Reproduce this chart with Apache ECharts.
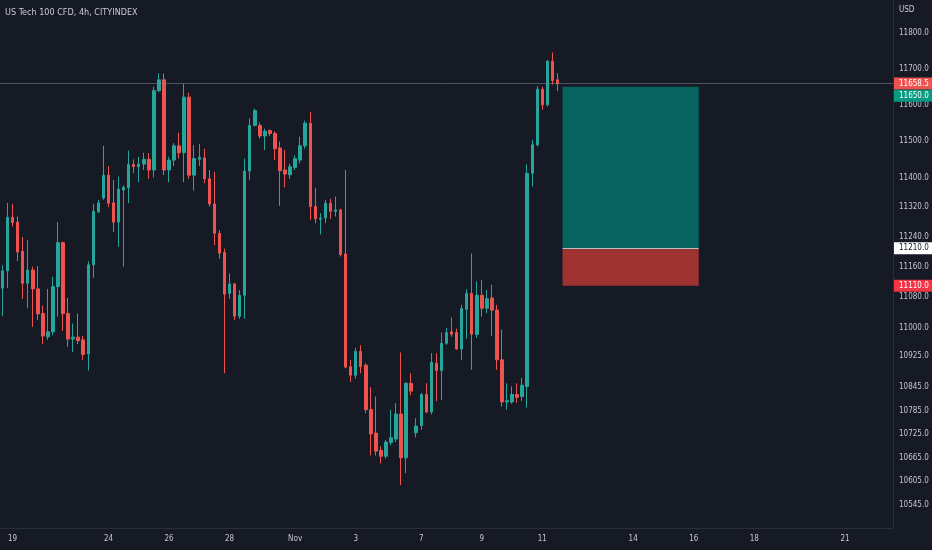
<!DOCTYPE html>
<html><head><meta charset="utf-8">
<script src="https://cdn.jsdelivr.net/npm/echarts@6/dist/echarts.min.js"></script>
<style>html,body{margin:0;padding:0;background:#161a25}#c{width:932px;height:550px}</style>
</head><body><div id="c"></div>
<script>
const FONT = "'Liberation Sans Narrow','DejaVu Sans Condensed',Roboto,sans-serif";

const opens  = [11104,11150,11293,11280,11202,11117,11152,11102,11037,10976,10989,11108,11225,11037,10970,10975,10968,10931,11166,11308,11345,11407,11332,11280,11367,11373,11436,11430,11437,11450,11421,11639,11669,11421,11448,11487,11468,11621,11407,11450,11454,11397,11329,11250,11199,11090,11115,11030,11085,11418,11543,11543,11514,11529,11521,11481,11421,11408,11428,11448,11487,11549,11322,11288,11291,11331,11309,11313,11195,10898,10876,10938,10902,10787,10727,10683,10668,10703,10712,10776,10664,10855,10728,10746,10826,10781,10907,10888,10959,10989,10987,10944,11048,11090,10982,11085,11051,11078,11046,10916,10807,10807,10826,10821,10847,11412,11490,11643,11600,11721,11669];
const closes = [11150,11293,11279,11200,11117,11152,11102,11036,10978,10989,11108,11225,11037,10970,10975,10966,10930,11166,11309,11332,11407,11331,11280,11369,11374,11436,11430,11437,11450,11421,11639,11669,11421,11448,11487,11468,11621,11407,11452,11456,11397,11329,11250,11197,11088,11115,11030,11085,11418,11543,11584,11514,11527,11521,11479,11419,11410,11430,11452,11487,11549,11322,11289,11291,11331,11309,11313,11193,10897,10876,10938,10898,10787,10725,10681,10668,10704,10715,10776,10664,10855,10835,10745,10826,10781,10909,10888,10959,10987,10983,10944,11050,11090,10983,11085,11051,11076,11046,10916,10807,10810,10826,10819,10850,11412,11490,11643,11600,11721,11667,11658.5];
const lows   = [11030,11104,11268,11176,11076,11051,11002,11020,10957,10968,10980,11029,10992,10950,10936,10957,10916,10888,11131,11304,11340,11321,11254,11214,11161,11331,11412,11388,11421,11397,11401,11635,11407,11388,11432,11452,11388,11397,11365,11432,11385,11322,11218,11182,10881,11076,11020,11023,11023,11394,11540,11507,11476,11514,11448,11324,11374,11397,11421,11439,11479,11286,11277,11247,11277,11289,11295,11188,10894,10859,10867,10881,10778,10670,10670,10650,10662,10696,10704,10595,10625,10824,10716,10735,10778,10775,10809,10812,10955,10976,10942,10916,10971,10890,10973,11029,11038,10978,10890,10795,10787,10802,10805,10809,10792,11376,11485,11586,11595,11656,11638];
const highs  = [11165,11332,11329,11295,11240,11232,11161,11163,11058,11102,11134,11280,11228,11078,11011,11037,10978,11175,11329,11340,11487,11432,11394,11403,11379,11474,11450,11457,11468,11467,11650,11687,11686,11457,11494,11523,11658,11633,11489,11492,11479,11421,11416,11259,11209,11143,11118,11099,11452,11562,11589,11551,11534,11532,11527,11499,11476,11438,11461,11512,11556,11580,11372,11304,11340,11343,11349,11316,11421,10916,10947,10954,10907,10845,10821,10693,10709,10787,10804,10935,10858,10881,10765,10830,10855,10933,10933,10987,10999,11027,10997,11060,11101,11196,11122,11125,11099,11113,11060,10995,10855,10847,10855,10869,11436,11503,11652,11650,11724,11745,11687];

const slotCount = 177;
const tickIndex  = [2,21,33,45,58,70,83,95,107,125,137,149,167];
const tickLabels = ['19','24','26','28','Nov','3','7','9','11','14','16','18','21'];
const priceTicks = [11800,11700,11600,11500,11400,11320,11240,11160,11080,11000,10925,10845,10785,10725,10665,10605,10545];

const lastPrice = 11658.5;
const targetPrice = 11650;
const entryPrice = 11210;
const stopPrice = 11110;
const boxStart = 111, boxEnd = 138;

const categories = Array(slotCount).fill('');
tickIndex.forEach((idx, k) => { categories[idx] = tickLabels[k]; });
const candles = opens.map((o, i) => [o, closes[i], lows[i], highs[i]]);

function tag(bg, fg, offY) {
  return {
    show: true, position: 'end', distance: 1,
    formatter: (p) => Number(p.value).toFixed(1),
    backgroundColor: bg, color: fg, fontFamily: FONT, fontSize: 8,
    lineHeight: 10, padding: [1, 4, 1, 5], offset: [0, offY || 0]
  };
}

const chart = echarts.init(document.getElementById('c'), null, {renderer: 'canvas'});
chart.setOption({
  backgroundColor: '#161a25',
  animation: false,
  title: [
    {text: 'US Tech 100 CFD, 4h, CITYINDEX', left: 5, top: 8, padding: 0,
     textStyle: {color: '#c9ccd4', fontSize: 9, fontWeight: 'normal', fontFamily: FONT}},
    {text: 'USD', left: 899, top: 6, padding: 0,
     textStyle: {color: '#c9ccd4', fontSize: 8, fontWeight: 'normal', fontFamily: FONT}}
  ],
  grid: {left: 0, right: 39, top: 0, bottom: 22, containLabel: false},
  xAxis: {
    type: 'category', data: categories, boundaryGap: true,
    axisLine: {show: true, lineStyle: {color: '#2a2e39'}},
    axisTick: {show: false},
    splitLine: {show: false},
    axisLabel: {
      interval: (i, v) => v !== '', color: '#c3c6ce', fontSize: 8,
      fontFamily: FONT, margin: 7
    }
  },
  yAxis: {
    type: 'log', logBase: 10, position: 'right',
    min: 10487.2, max: 11893.1,
    axisLine: {show: true, lineStyle: {color: '#2a2e39'}},
    axisTick: {show: false},
    splitLine: {show: false},
    axisLabel: {
      customValues: priceTicks, formatter: (v) => Number(v).toFixed(1),
      color: '#c3c6ce', fontSize: 8, fontFamily: FONT, margin: 6
    }
  },
  series: [{
    type: 'candlestick',
    data: candles,
    barWidth: 3,
    itemStyle: {color: '#26a69a', color0: '#ef5350', borderColor: '#26a69a', borderColor0: '#ef5350', borderWidth: 1},
    markArea: {
      silent: true,
      data: [
        [{xAxis: boxStart, yAxis: targetPrice, itemStyle: {color: '#07635d', opacity: 1}}, {xAxis: boxEnd, yAxis: entryPrice}],
        [{xAxis: boxStart, yAxis: entryPrice, itemStyle: {color: '#9f3331', opacity: 1}}, {xAxis: boxEnd, yAxis: stopPrice}]
      ]
    },
    markLine: {
      silent: true, symbol: ['none', 'none'], precision: 1,
      data: [
        {yAxis: lastPrice, lineStyle: {color: 'rgba(130,133,145,0.55)', width: 1, type: 'solid'}, label: tag('#ef5350', '#ffffff')},
        {yAxis: targetPrice, lineStyle: {color: 'transparent', width: 0}, label: tag('#089981', '#ffffff', 9)},
        {yAxis: entryPrice, lineStyle: {color: 'transparent', width: 0}, label: tag('#ffffff', '#131722')},
        {yAxis: stopPrice, lineStyle: {color: 'transparent', width: 0}, label: tag('#f23645', '#ffffff')},
        [{xAxis: boxStart, yAxis: entryPrice, lineStyle: {color: '#b8bcc6', width: 1, type: 'solid'}, label: {show: false}},
         {xAxis: boxEnd, yAxis: entryPrice}]
      ]
    }
  }]
});
</script>
</body></html>
